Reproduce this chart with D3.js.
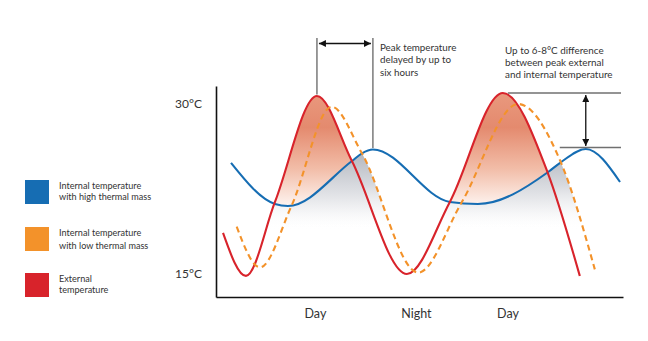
<!DOCTYPE html>
<html><head><meta charset="utf-8">
<script src="https://cdn.jsdelivr.net/npm/d3@7"></script>
<style>body{margin:0;background:#fff}svg{display:block}</style>
</head><body>
<script>
// ---- data (hours along the time axis, temperature in °C) ----
const externalHours = [0.87, 3.71, 7.30, 12.50, 16.83, 23.64, 28.96, 35.52, 41.09, 45.05];
const externalTemp  = [18.53, 14.74, 21.27, 30.62, 24.88, 14.91, 21.27, 30.88, 23.82, 14.74];
const lowMassHours  = [2.56, 5.45, 9.36, 14.32, 18.07, 25.04, 30.40, 37.41, 42.70, 46.91];
const lowMassTemp   = [19.09, 15.50, 20.94, 29.67, 25.56, 15.03, 21.20, 29.91, 24.77, 15.32];
const highMassHours = [1.86, 7.30, 8.91, 16.83, 18.07, 19.43, 28.96, 32.43, 41.09, 42.70, 45.79, 50.03];
const highMassTemp  = [24.71, 21.09, 20.91, 24.88, 25.56, 25.90, 21.27, 21.09, 23.89, 24.77, 25.94, 23.03];
const xTickHours  = [12.25, 24.75, 36.1];
const xTickLabels = ["Day", "Night", "Day"];
const yTickValues = [15, 30];
const yTickLabels = ["15°C", "30°C"];
const legendLabels = [["Internal temperature", "with high thermal mass"],
                      ["Internal temperature", "with low thermal mass"],
                      ["External", "temperature"]];
const delayNote = ["Peak temperature", "delayed by up to", "six hours"];
const diffNote  = ["Up to 6-8°C difference", "between peak external", "and internal temperature"];

const C = {blue:"#166db3", orange:"#f3922a", red:"#d8232b", text:"#333333", guide:"#707070"};
const FONT = "Lato, 'Liberation Sans', sans-serif";

const W = 648, H = 341;
const svg = d3.select("body").append("svg").attr("width", W).attr("height", H);
const x = d3.scaleLinear().domain([0, 50.4]).range([216, 623]);
const y = d3.scaleLinear().domain([12.88, 31.5]).range([297, 86]);

const zip = (hs, ts) => hs.map((h, i) => ({h, t: ts[i]}));
const ext = zip(externalHours, externalTemp);
const low = zip(lowMassHours, lowMassTemp);
const high = zip(highMassHours, highMassTemp);

const line = d3.line().x(d => x(d.h)).y(d => y(d.t)).curve(d3.curveMonotoneX);
const areaDown = d3.area().x(d => x(d.h)).y0(297).y1(d => y(d.t)).curve(d3.curveMonotoneX);
const areaAbove = d3.area().x(d => x(d.h)).y0(0).y1(d => y(d.t)).curve(d3.curveMonotoneX);
const areaBelow = d3.area().x(d => x(d.h)).y0(H).y1(d => y(d.t)).curve(d3.curveMonotoneX);

const defs = svg.append("defs");
defs.append("clipPath").attr("id", "aboveBlue").append("path").attr("d", areaAbove(high));
defs.append("clipPath").attr("id", "belowBlue").append("path").attr("d", areaBelow(high));

const sal = defs.append("linearGradient").attr("id", "salmon")
  .attr("gradientUnits", "userSpaceOnUse").attr("x1", 0).attr("x2", 0).attr("y1", 92).attr("y2", 210);
[[0, "#e9997e"], [0.3, "#e48a6e"], [0.65, "#f2bda8"], [1, "#fffaf8"]]
  .forEach(([o, c]) => sal.append("stop").attr("offset", o).attr("stop-color", c));
const gr = defs.append("linearGradient").attr("id", "grayg")
  .attr("gradientUnits", "userSpaceOnUse").attr("x1", 0).attr("x2", 0).attr("y1", 148).attr("y2", 230);
[[0, "#aeb2ba", 1], [0.45, "#d7d9de", 1], [1, "#ffffff", 0]]
  .forEach(([o, c, a]) => gr.append("stop").attr("offset", o).attr("stop-color", c).attr("stop-opacity", a));

defs.append("marker").attr("id", "arr").attr("viewBox", "0 0 10 10")
  .attr("refX", 10).attr("refY", 5).attr("markerWidth", 7).attr("markerHeight", 7)
  .attr("markerUnits", "userSpaceOnUse").attr("orient", "auto-start-reverse")
  .append("path").attr("d", "M0,0L10,5L0,10Z").attr("fill", "#111");

// fills
svg.append("g").attr("clip-path", "url(#aboveBlue)")
  .append("path").attr("d", areaDown(ext)).attr("fill", "url(#salmon)");
const gg = svg.append("g").attr("clip-path", "url(#belowBlue)");
gg.append("path").attr("d", areaDown(ext)).attr("fill", "url(#grayg)");
gg.append("path").attr("d", areaDown(low)).attr("fill", "url(#grayg)");

// axes
const yAxis = svg.append("g").attr("transform", "translate(216,0)")
  .call(d3.axisLeft(y).tickValues(yTickValues).tickSize(0).tickPadding(14)
    .tickFormat((d, i) => yTickLabels[i]));
const xAxis = svg.append("g").attr("transform", "translate(0,297)")
  .call(d3.axisBottom(x).tickValues(xTickHours).tickSize(0).tickPadding(12)
    .tickFormat((d, i) => xTickLabels[i]));
[yAxis, xAxis].forEach(a => {
  a.select(".domain").attr("stroke", "#111").attr("stroke-width", 1.6);
  a.selectAll("text").attr("fill", C.text).attr("font-family", FONT);
});
yAxis.selectAll("text").attr("font-size", 12).attr("dy", "0.35em");
xAxis.selectAll("text").attr("font-size", 12.5);

// series lines
svg.append("path").attr("d", line(high)).attr("fill", "none").attr("stroke", C.blue).attr("stroke-width", 2.1);
svg.append("path").attr("d", line(ext)).attr("fill", "none").attr("stroke", C.red).attr("stroke-width", 2.1);
svg.append("path").attr("d", line(low)).attr("fill", "none").attr("stroke", C.orange)
  .attr("stroke-width", 2.1).attr("stroke-dasharray", "6,4");

// annotations derived from peaks
const peak = (arr, lo, hi) => arr.filter(d => d.h >= lo && d.h < hi).reduce((a, b) => b.t > a.t ? b : a);
const rP1 = peak(ext, 0, 24), bP1 = peak(high, 0, 30), rP2 = peak(ext, 24, 60), bP2 = peak(high, 30, 60);
const ann = svg.append("g");
ann.append("line").attr("x1", x(rP1.h)).attr("x2", x(rP1.h)).attr("y1", 38).attr("y2", y(rP1.t) - 1.5)
  .attr("stroke", C.guide).attr("stroke-width", 1.4);
ann.append("line").attr("x1", x(bP1.h)).attr("x2", x(bP1.h)).attr("y1", 38).attr("y2", y(bP1.t) - 1.5)
  .attr("stroke", C.guide).attr("stroke-width", 1.4);
ann.append("line").attr("x1", x(rP1.h) + 2).attr("x2", x(bP1.h) - 2).attr("y1", 43.5).attr("y2", 43.5)
  .attr("stroke", "#111").attr("stroke-width", 1.3)
  .attr("marker-start", "url(#arr)").attr("marker-end", "url(#arr)");
ann.append("line").attr("x1", x(rP2.h) + 5).attr("x2", 621).attr("y1", y(rP2.t)).attr("y2", y(rP2.t))
  .attr("stroke", C.guide).attr("stroke-width", 1.4);
ann.append("line").attr("x1", x(bP2.h) - 26).attr("x2", 621).attr("y1", y(bP2.t) - 1.5).attr("y2", y(bP2.t) - 1.5)
  .attr("stroke", C.guide).attr("stroke-width", 1.4);
ann.append("line").attr("x1", x(bP2.h)).attr("x2", x(bP2.h)).attr("y1", y(rP2.t) + 2).attr("y2", y(bP2.t) - 3)
  .attr("stroke", "#111").attr("stroke-width", 1.3)
  .attr("marker-start", "url(#arr)").attr("marker-end", "url(#arr)");

const block = (lines, x0, y0, dy, size) => {
  const t = svg.append("text").attr("font-family", FONT).attr("font-size", size).attr("fill", C.text);
  lines.forEach((s, i) => t.append("tspan").attr("x", x0).attr("y", y0 + i * dy).text(s));
};
block(delayNote, 380, 50.7, 12.6, 9.8);
block(diffNote, 505, 54, 12, 9.9);

// legend
const legColors = [C.blue, C.orange, C.red];
const legTops = [180, 227, 273];
const legDy = [11.5, 13.3, 11.7];
legendLabels.forEach((lab, i) => {
  svg.append("rect").attr("x", 25).attr("y", legTops[i]).attr("width", 24).attr("height", 24).attr("fill", legColors[i]);
  block(lab, 59, legTops[i] + 8.5, legDy[i], 9.1);
});
</script>
</body></html>
